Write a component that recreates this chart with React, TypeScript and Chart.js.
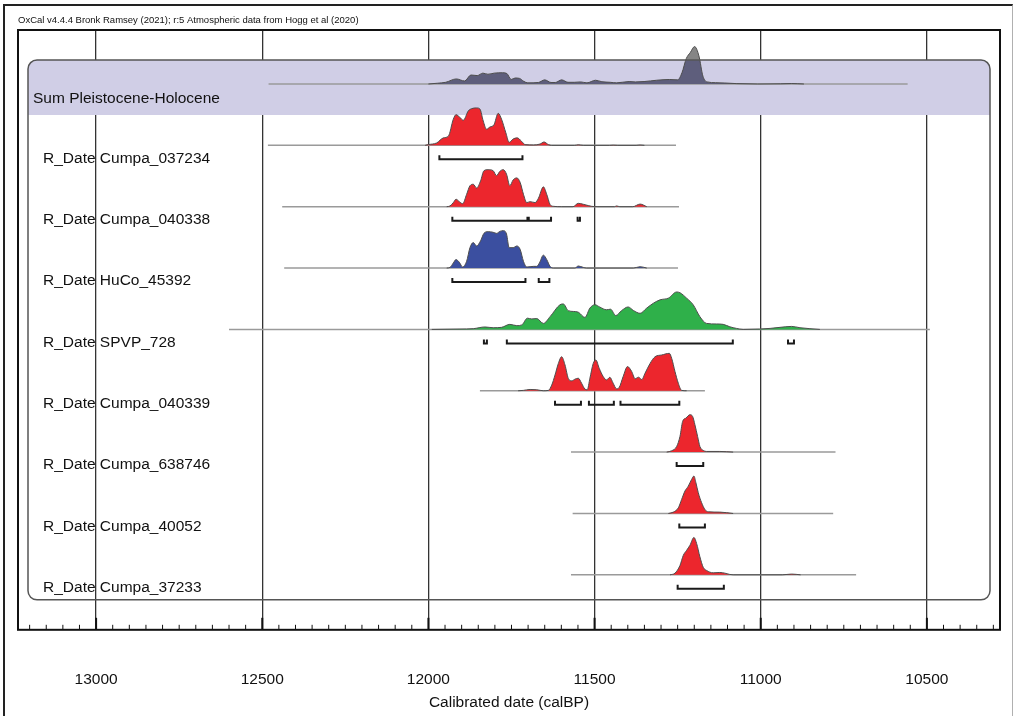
import { useEffect, useRef } from 'react';
import { Chart, registerables } from 'chart.js';

Chart.register(...registerables);

// ---------- data ----------
const rowLabels = [
  'Sum Pleistocene-Holocene',
  'R_Date Cumpa_037234',
  'R_Date Cumpa_040338',
  'R_Date HuCo_45392',
  'R_Date SPVP_728',
  'R_Date Cumpa_040339',
  'R_Date Cumpa_638746',
  'R_Date Cumpa_40052',
  'R_Date Cumpa_37233',
];

const xTickValues = [13000, 12500, 12000, 11500, 11000, 10500];

const sumYears = [12000, 11973, 11948, 11916, 11891, 11872, 11853, 11836, 11821, 11802, 11777, 11764, 11751, 11739, 11726, 11713, 11701, 11669, 11650, 11631, 11618, 11599, 11580, 11561, 11542, 11523, 11497, 11478, 11453, 11434, 11396, 11377, 11351, 11313, 11275, 11250, 11237, 11224, 11212, 11199, 11186, 11174, 11161, 11136, 11110, 11072, 11009, 10940, 10907, 10870];
const sumDensity = [0, 0.02, 0.045, 0.135, 0.08, 0.24, 0.225, 0.29, 0.26, 0.29, 0.3, 0.28, 0.12, 0.16, 0.15, 0.07, 0.03, 0.04, 0.11, 0.04, 0.04, 0.11, 0.045, 0.045, 0.055, 0.03, 0.1, 0.06, 0.045, 0.03, 0.065, 0.055, 0.065, 0.1, 0.12, 0.11, 0.3, 0.68, 0.84, 1.0, 0.75, 0.21, 0.055, 0.035, 0.027, 0.01, 0, 0.005, 0.012, 0];

const c037234Years = [12010, 12000, 11975, 11955, 11940, 11925, 11917, 11905, 11895, 11880, 11870, 11855, 11845, 11835, 11825, 11815, 11803, 11790, 11780, 11767, 11757, 11745, 11733, 11720, 11709, 11684, 11664, 11652, 11639, 11629, 11560, 11549, 11534, 11455, 11444, 11430, 11375, 11363, 11350];
const c037234Density = [0, 0.02, 0.065, 0.2, 0.245, 0.7, 0.82, 0.745, 0.67, 0.92, 0.98, 1.0, 0.97, 0.65, 0.43, 0.49, 0.545, 0.855, 0.7, 0.335, 0.08, 0.17, 0.2, 0.11, 0.02, 0.01, 0.035, 0.09, 0.02, 0, 0, 0.015, 0, 0, 0.006, 0, 0, 0.01, 0];

const c040338Years = [11945, 11935, 11925, 11917, 11907, 11897, 11885, 11875, 11865, 11855, 11843, 11833, 11820, 11805, 11795, 11785, 11775, 11765, 11755, 11745, 11734, 11724, 11714, 11704, 11694, 11679, 11669, 11654, 11644, 11634, 11624, 11600, 11565, 11549, 11534, 11519, 11509, 11490, 11440, 11434, 11424, 11385, 11363, 11343];
const c040338Density = [0, 0.02, 0.11, 0.2, 0.135, 0.08, 0.33, 0.56, 0.6, 0.5, 0.69, 0.96, 0.99, 0.96, 0.83, 0.945, 0.99, 0.87, 0.56, 0.715, 0.77, 0.65, 0.33, 0.11, 0.135, 0.11, 0.225, 0.53, 0.33, 0.06, 0.01, 0, 0, 0.09, 0.065, 0.03, 0.01, 0, 0, 0.02, 0, 0, 0.07, 0];

const huco45392Years = [11945, 11935, 11925, 11917, 11907, 11897, 11885, 11875, 11865, 11855, 11843, 11833, 11820, 11805, 11795, 11785, 11775, 11765, 11757, 11745, 11734, 11724, 11714, 11704, 11684, 11674, 11666, 11654, 11644, 11634, 11624, 11559, 11549, 11534, 11524, 11383, 11363, 11343];
const huco45392Density = [0, 0.018, 0.136, 0.227, 0.155, 0.027, 0.18, 0.545, 0.68, 0.59, 0.727, 0.927, 0.973, 0.955, 0.927, 0.98, 1.0, 0.91, 0.545, 0.545, 0.59, 0.5, 0.18, 0.027, 0.045, 0.045, 0.136, 0.345, 0.227, 0.045, 0, 0, 0.055, 0.018, 0, 0, 0.036, 0];

const spvp728Years = [11990, 11905, 11865, 11830, 11805, 11780, 11755, 11734, 11719, 11702, 11689, 11674, 11654, 11634, 11604, 11594, 11579, 11564, 11549, 11529, 11514, 11499, 11484, 11464, 11452, 11436, 11419, 11399, 11383, 11363, 11343, 11323, 11303, 11278, 11253, 11243, 11223, 11203, 11183, 11163, 11133, 11113, 11093, 11073, 11053, 11003, 10972, 10942, 10907, 10882, 10852, 10822];
const spvp728Density = [0, 0.01, 0.02, 0.065, 0.045, 0.055, 0.135, 0.1, 0.12, 0.3, 0.28, 0.29, 0.16, 0.34, 0.66, 0.68, 0.5, 0.48, 0.46, 0.32, 0.57, 0.66, 0.595, 0.525, 0.54, 0.37, 0.5, 0.6, 0.505, 0.43, 0.57, 0.7, 0.79, 0.835, 1.0, 0.98, 0.835, 0.655, 0.34, 0.16, 0.145, 0.135, 0.07, 0.027, 0, 0.01, 0.027, 0.055, 0.08, 0.045, 0.02, 0];

const c040339Years = [11730, 11714, 11694, 11674, 11654, 11639, 11629, 11619, 11609, 11599, 11589, 11579, 11569, 11559, 11549, 11539, 11529, 11522, 11514, 11504, 11496, 11486, 11474, 11464, 11454, 11444, 11434, 11426, 11414, 11401, 11388, 11378, 11368, 11358, 11348, 11333, 11318, 11298, 11275, 11268, 11258, 11248, 11238, 11223];
const c040339Density = [0, 0.01, 0.035, 0.027, 0, 0.01, 0.15, 0.42, 0.73, 0.91, 0.69, 0.33, 0.265, 0.31, 0.335, 0.2, 0.045, 0.027, 0.336, 0.73, 0.82, 0.6, 0.38, 0.29, 0.36, 0.2, 0.053, 0.088, 0.38, 0.646, 0.51, 0.32, 0.363, 0.3, 0.47, 0.73, 0.91, 0.956, 1.0, 0.867, 0.513, 0.2, 0.01, 0];

const c638746Years = [11283, 11268, 11253, 11243, 11235, 11225, 11213, 11205, 11198, 11190, 11183, 11173, 11163, 11123, 11083];
const c638746Density = [0, 0.036, 0.15, 0.42, 0.82, 0.91, 1.0, 0.955, 0.73, 0.42, 0.15, 0.045, 0.018, 0.018, 0];

const c40052Years = [11278, 11263, 11248, 11238, 11228, 11218, 11208, 11201, 11195, 11188, 11178, 11168, 11158, 11123, 11083];
const c40052Density = [0, 0.036, 0.15, 0.375, 0.6, 0.73, 0.91, 1.0, 0.82, 0.555, 0.29, 0.107, 0.045, 0.036, 0];

const c37233Years = [11273, 11258, 11243, 11233, 11223, 11213, 11201, 11193, 11183, 11173, 11163, 11143, 11123, 11108, 11093, 11083, 10935, 10907, 10880];
const c37233Density = [0, 0.045, 0.25, 0.52, 0.655, 0.79, 1.0, 0.84, 0.48, 0.2, 0.117, 0.054, 0.063, 0.045, 0.01, 0, 0, 0.02, 0];

// baseline extents (start, end) per row, calBP
const baselineStarts = [12481, 12483, 12440, 12434, 12600, 11845, 11571, 11566, 11571];
const baselineEnds = [10558, 11255, 11246, 11249, 10491, 11168, 10775, 10782, 10713];

// 95.4% ranges per row (from, to)
const ranges037234 = [[11967, 11717]];
const ranges040338 = [[11928, 11702], [11698, 11631], [11551, 11544]];
const rangesHuCo45392 = [[11928, 11708], [11668, 11636]];
const rangesSPVP728 = [[11833, 11824], [11764, 11084], [10918, 10900]];
const ranges040339 = [[11619, 11541], [11517, 11442], [11422, 11245]];
const ranges638746 = [[11253, 11173]];
const ranges40052 = [[11245, 11168]];
const ranges37233 = [[11250, 11111]];

// ---------- styling / layout constants ----------
const X_MIN = 10280;
const X_MAX = 13235;
const Y_MIN = -0.88;
const Y_MAX = 8.896;
const PEAK = 0.61;
const BOX_TOP = -0.391;
const BAND_BOTTOM = 0.505;
const BOX_BOTTOM = 8.407;
const FONT = "'Liberation Sans', Arial, Helvetica, sans-serif";
const RED = '#ec262d';
const BLUE = '#3b4fa0';
const GREEN = '#2fb04a';

const curves = [
  { years: sumYears, dens: sumDensity, color: 'sum' },
  { years: c037234Years, dens: c037234Density, color: RED },
  { years: c040338Years, dens: c040338Density, color: RED },
  { years: huco45392Years, dens: huco45392Density, color: BLUE },
  { years: spvp728Years, dens: spvp728Density, color: GREEN },
  { years: c040339Years, dens: c040339Density, color: RED },
  { years: c638746Years, dens: c638746Density, color: RED },
  { years: c40052Years, dens: c40052Density, color: RED },
  { years: c37233Years, dens: c37233Density, color: RED },
];

const rangesByRow = [null, ranges037234, ranges040338, rangesHuCo45392, rangesSPVP728, ranges040339, ranges638746, ranges40052, ranges37233];

function buildDatasets() {
  const ds: any[] = [];
  // brackets (top)
  rangesByRow.forEach((ranges, row) => {
    if (!ranges) return;
    const yb = row + 0.228;
    const yt = row + 0.163;
    const pts: any[] = [];
    ranges.forEach(([a, b]) => {
      pts.push({ x: a, y: yt }, { x: a, y: yb }, { x: b, y: yb }, { x: b, y: yt }, { x: b, y: null });
    });
    ds.push({
      type: 'line', data: pts, borderColor: '#1a1a1a', borderWidth: 2, pointRadius: 0,
      fill: false, spanGaps: false, tension: 0, order: 0,
    });
  });
  // curves
  curves.forEach((c, row) => {
    const data = c.years.map((x, i) => ({ x, y: row - c.dens[i] * PEAK }));
    const bg = c.color === 'sum'
      ? (ctx: any) => {
          const chart = ctx.chart;
          const a = chart.chartArea;
          if (!a) return '#5f5f7d';
          const yTop = chart.scales.y.getPixelForValue(BOX_TOP);
          const g = chart.ctx.createLinearGradient(0, a.top, 0, a.bottom);
          const t = Math.min(1, Math.max(0, (yTop - a.top) / (a.bottom - a.top)));
          g.addColorStop(0, '#858585');
          g.addColorStop(t, '#858585');
          g.addColorStop(t, '#5e5e7c');
          g.addColorStop(1, '#5e5e7c');
          return g;
        }
      : c.color;
    ds.push({
      type: 'line', data, borderColor: '#4d4d4d', borderWidth: 1, backgroundColor: bg,
      fill: { value: row }, pointRadius: 0, cubicInterpolationMode: 'monotone', order: 1,
    });
  });
  // baselines (bottom)
  baselineStarts.forEach((s, row) => {
    ds.push({
      type: 'line', data: [{ x: s, y: row }, { x: baselineEnds[row], y: row }],
      borderColor: '#9a9a9a', borderWidth: 1.5, pointRadius: 0, fill: false, order: 2,
    });
  });
  return ds;
}

const decorPlugin = {
  id: 'oxcalDecor',
  beforeDatasetsDraw(chart: any) {
    const { ctx, chartArea: a, scales } = chart;
    const y = scales.y;
    const L = a.left + 10;
    const R = a.right - 10;
    const top = y.getPixelForValue(BOX_TOP);
    const bb = y.getPixelForValue(BAND_BOTTOM);
    ctx.save();
    ctx.fillStyle = '#d0cee6';
    ctx.beginPath();
    ctx.roundRect(L, top, R - L, bb - top, [9, 9, 0, 0]);
    ctx.fill();
    ctx.restore();
  },
  afterDatasetsDraw(chart: any) {
    const { ctx, chartArea: a, scales } = chart;
    const y = scales.y;
    const L = a.left + 10;
    const R = a.right - 10;
    const top = y.getPixelForValue(BOX_TOP);
    const bot = y.getPixelForValue(BOX_BOTTOM);
    ctx.save();
    ctx.strokeStyle = '#555';
    ctx.lineWidth = 1.5;
    ctx.beginPath();
    ctx.roundRect(L, top, R - L, bot - top, 9);
    ctx.stroke();
    ctx.fillStyle = '#111';
    ctx.font = `15.5px ${FONT}`;
    ctx.textBaseline = 'middle';
    ctx.textAlign = 'left';
    rowLabels.forEach((lab, row) => {
      if (row === 0) {
        ctx.fillText(lab, a.left + 15, y.getPixelForValue(row + 0.244));
      } else {
        ctx.fillText(lab, a.left + 25, y.getPixelForValue(row + 0.212));
      }
    });
    ctx.restore();
  },
  afterDraw(chart: any) {
    const { ctx, chartArea: a, scales } = chart;
    const x = scales.x;
    ctx.save();
    ctx.strokeStyle = '#111';
    ctx.lineWidth = 1;
    for (let v = 10300; v <= 13200; v += 50) {
      const px = x.getPixelForValue(v);
      ctx.beginPath();
      if (v % 500 === 0) {
        ctx.lineWidth = 2;
        ctx.moveTo(px, a.bottom);
        ctx.lineTo(px, a.bottom - 12);
      } else {
        ctx.lineWidth = 1;
        ctx.moveTo(px, a.bottom);
        ctx.lineTo(px, a.bottom - 5);
      }
      ctx.stroke();
    }
    ctx.lineWidth = 2;
    ctx.strokeStyle = '#111';
    ctx.strokeRect(a.left, a.top, a.right - a.left, a.bottom - a.top);
    ctx.restore();
  },
};

export default function App() {
  const ref = useRef<HTMLCanvasElement | null>(null);
  useEffect(() => {
    if (!ref.current) return;
    const chart = new Chart(ref.current, {
      type: 'line',
      data: { datasets: buildDatasets() },
      options: {
        animation: false,
        responsive: false,
        devicePixelRatio: 1,
        layout: { padding: { left: 18, right: 17, top: 13, bottom: 0 } },
        plugins: {
          legend: { display: false },
          tooltip: { enabled: false },
          title: {
            display: true,
            text: 'OxCal v4.4.4 Bronk Ramsey (2021); r:5 Atmospheric data from Hogg et al (2020)',
            align: 'start',
            color: '#111',
            font: { family: FONT, size: 9.5, weight: 'normal' },
            padding: { top: 2, bottom: 3.6 },
          },
        },
        scales: {
          x: {
            type: 'linear',
            min: X_MIN,
            max: X_MAX,
            reverse: true,
            z: 1,
            afterBuildTicks: (scale: any) => {
              scale.ticks = xTickValues.map((v) => ({ value: v }));
            },
            ticks: {
              autoSkip: false,
              maxRotation: 0,
              padding: 4,
              color: '#111',
              font: { family: FONT, size: 15.5 },
              callback: (v: any) => String(v),
            },
            grid: { drawTicks: true, tickLength: 37, tickColor: 'rgba(0,0,0,0)', color: '#333', lineWidth: 1.3 },
            border: { display: false },
            title: {
              display: true,
              text: 'Calibrated date (calBP)',
              color: '#111',
              font: { family: FONT, size: 15.5 },
              padding: { top: 0, bottom: 4 },
            },
          },
          y: { type: 'linear', min: Y_MIN, max: Y_MAX, reverse: true, display: false },
        },
      } as any,
      plugins: [decorPlugin],
    });
    return () => chart.destroy();
  }, []);
  return (
    <div style={{ position: 'absolute', left: 0, top: 0, width: 1017, height: 716, background: '#fff', overflow: 'hidden' }}>
      <canvas ref={ref} width={1017} height={716} style={{ position: 'absolute', left: 0, top: 0, width: 1017, height: 716 }} />
      <div style={{ position: 'absolute', left: 3, top: 4, width: 1007, height: 712, borderLeft: '2px solid #222', borderTop: '2px solid #222', borderRight: '1px solid #b0b0b0', pointerEvents: 'none' }} />
    </div>
  );
}
